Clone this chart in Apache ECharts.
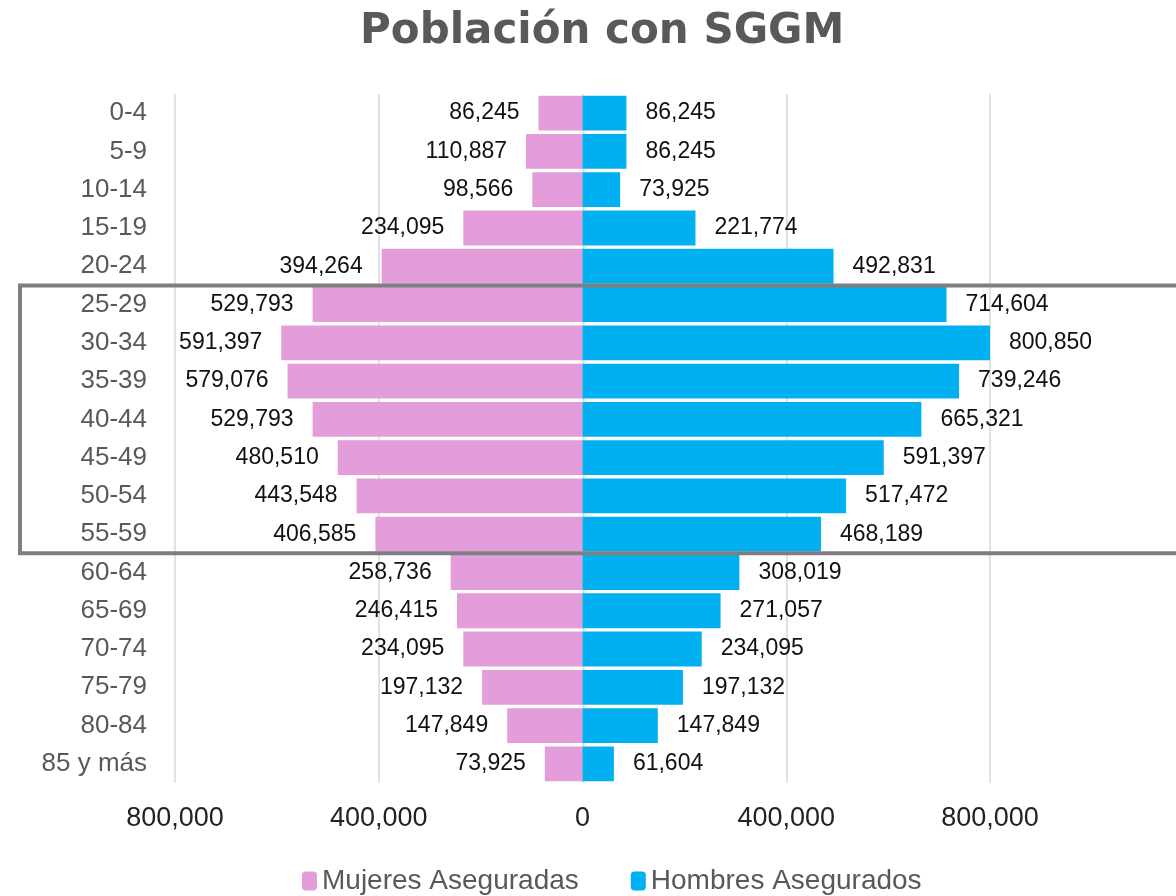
<!DOCTYPE html>
<html>
<head>
<meta charset="utf-8">
<script src="https://cdn.jsdelivr.net/npm/echarts@6/dist/echarts.min.js"></script>
<style>
  html, body { margin: 0; padding: 0; background: #fff; }
  #main { width: 1176px; height: 896px; }
</style>
</head>
<body>
<div id="main"></div>
<script>
// grupos de edad
let grupos = ["0-4","5-9","10-14","15-19","20-24","25-29","30-34","35-39","40-44","45-49","50-54","55-59","60-64","65-69","70-74","75-79","80-84","85 y más"];
let mujeres = [86245,110887,98566,234095,394264,529793,591397,579076,529793,480510,443548,406585,258736,246415,234095,197132,147849,73925];
let hombres = [86245,86245,73925,221774,492831,714604,800850,739246,665321,591397,517472,468189,308019,271057,234095,197132,147849,61604];
let ticksX = [-800000,-400000,0,400000,800000];
// rango resaltado
let resaltado = ["25-29","55-59"];

let fmt = v => Math.abs(v).toLocaleString("en-US");
let font = "'Liberation Sans', Arial, sans-serif";

var myChart = echarts.init(document.getElementById("main"));
var option = {
    animation: false,
    title: {
        text: "Población con SGGM",
        left: 355, top: 6,
        textStyle: { fontFamily: "'DejaVu Sans', sans-serif", fontSize: 42, fontWeight: "bold", color: "#595959" }
    },
    legend: {
        top: 862, left: 297,
        itemWidth: 15, itemHeight: 19, itemGap: 52,
        textStyle: { fontFamily: font, fontSize: 28, color: "#595959" },
        data: ["Mujeres Aseguradas", "Hombres Asegurados"]
    },
    grid: { left: 175, right: 186, top: 94, bottom: 113, containLabel: false },
    xAxis: {
        type: "value", min: ticksX[0], max: ticksX[ticksX.length - 1], interval: 400000,
        axisLine: { show: false }, axisTick: { show: false },
        splitLine: { lineStyle: { color: "#d9d9d9", width: 1.5 } },
        axisLabel: { margin: 22, fontFamily: font, fontSize: 27, color: "#222", formatter: fmt }
    },
    yAxis: {
        type: "category", data: grupos, inverse: true,
        axisLine: { show: false }, axisTick: { show: false },
        axisLabel: { margin: 28, fontFamily: font, fontSize: 26, color: "#595959" }
    },
    series: [
        {
            name: "Mujeres Aseguradas", type: "bar", stack: "total",
            barCategoryGap: "9%",
            itemStyle: { color: "#e39ddb" },
            label: { show: true, position: "left", distance: 19, fontFamily: font, fontSize: 23, color: "#111", formatter: p => fmt(p.value) },
            data: mujeres.map(v => -v)
        },
        {
            name: "Hombres Asegurados", type: "bar", stack: "total",
            barCategoryGap: "9%",
            itemStyle: { color: "#00b0f0" },
            label: { show: true, position: "right", distance: 19, fontFamily: font, fontSize: 23, color: "#111", formatter: p => fmt(p.value) },
            data: hombres
        }
    ]
};
myChart.setOption(option);

// recuadro gris alrededor de 25-59
let y1 = myChart.convertToPixel({ yAxisIndex: 0 }, resaltado[0]);
let y2 = myChart.convertToPixel({ yAxisIndex: 0 }, resaltado[1]);
let media = (y2 - y1) / (grupos.indexOf(resaltado[1]) - grupos.indexOf(resaltado[0])) / 2;
myChart.setOption({
    graphic: [{
        type: "rect", z: 10,
        shape: { x: 20, y: y1 - media, width: 1200, height: y2 - y1 + 2 * media },
        style: { fill: "none", stroke: "#7f7f7f", lineWidth: 4 }
    }]
});
</script>
</body>
</html>
